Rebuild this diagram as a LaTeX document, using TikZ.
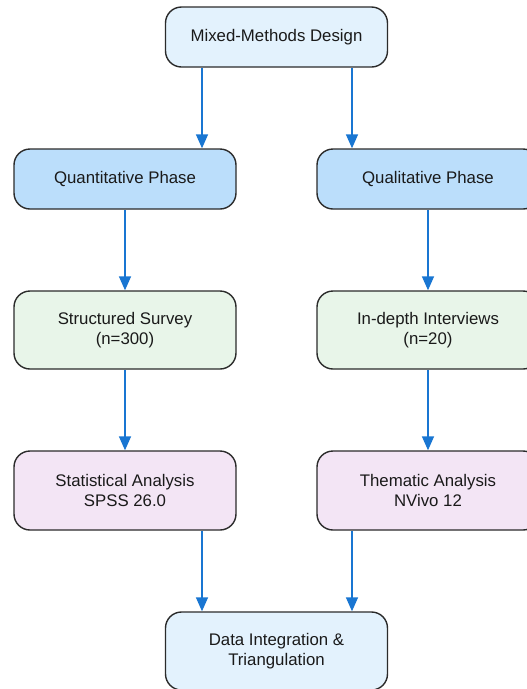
\documentclass[tikz,border=0pt]{standalone}
\usepackage{fontspec}
\setmainfont{Liberation Sans}
\usetikzlibrary{arrows.meta}
\definecolor{topfill}{HTML}{E3F2FD}
\definecolor{phasefill}{HTML}{BBDEFB}
\definecolor{greenfill}{HTML}{E8F5E9}
\definecolor{purplefill}{HTML}{F3E5F5}
\definecolor{arrowblue}{HTML}{1976D2}
\definecolor{borderc}{HTML}{2B2B2B}
\definecolor{textc}{HTML}{1A1A1A}
\tikzset{
  box/.style={draw=borderc, line width=1.4pt, rounded corners=16pt, minimum width=222pt, align=center, text=textc, font=\fontsize{16.8}{20.5}\selectfont, inner sep=0pt},
  topbox/.style={box, fill=topfill, minimum height=60pt},
  phasebox/.style={box, fill=phasefill, minimum height=60pt},
  greenbox/.style={box, fill=greenfill, minimum height=78pt},
  purplebox/.style={box, fill=purplefill, minimum height=79pt},
  intbox/.style={box, fill=topfill, minimum height=78pt},
  flow/.style={draw=arrowblue, line width=1.5pt, -{Triangle[length=14pt,width=12pt]}}
}
\begin{document}
\begin{tikzpicture}[x=1pt,y=-1pt]
\useasboundingbox (0,0) rectangle (527,689);
\clip (0,0) rectangle (527,689);
\node[topbox] (design) at (276.5,37) {Mixed-Methods Design};
\node[phasebox] (quant) at (125,179) {Quantitative Phase};
\node[phasebox] (qual) at (428,179) {Qualitative Phase};
\node[greenbox] (survey) at (125,330) {Structured Survey\\(n=300)};
\node[greenbox] (interv) at (428,330) {In-depth Interviews\\(n=20)};
\node[purplebox] (stat) at (125,490.5) {Statistical Analysis\\SPSS 26.0};
\node[purplebox] (them) at (428,490.5) {Thematic Analysis\\NVivo 12};
\node[intbox] (integ) at (276.5,651) {Data Integration \&\\Triangulation};
\draw[flow] (design.south -| 202,0) -- (quant.north -| 202,0);
\draw[flow] (design.south -| 352,0) -- (qual.north -| 352,0);
\draw[flow] (quant) -- (survey);
\draw[flow] (survey) -- (stat);
\draw[flow] (qual) -- (interv);
\draw[flow] (interv) -- (them);
\draw[flow] (stat.south -| 202,0) -- (integ.north -| 202,0);
\draw[flow] (them.south -| 352,0) -- (integ.north -| 352,0);
\end{tikzpicture}
\end{document}
